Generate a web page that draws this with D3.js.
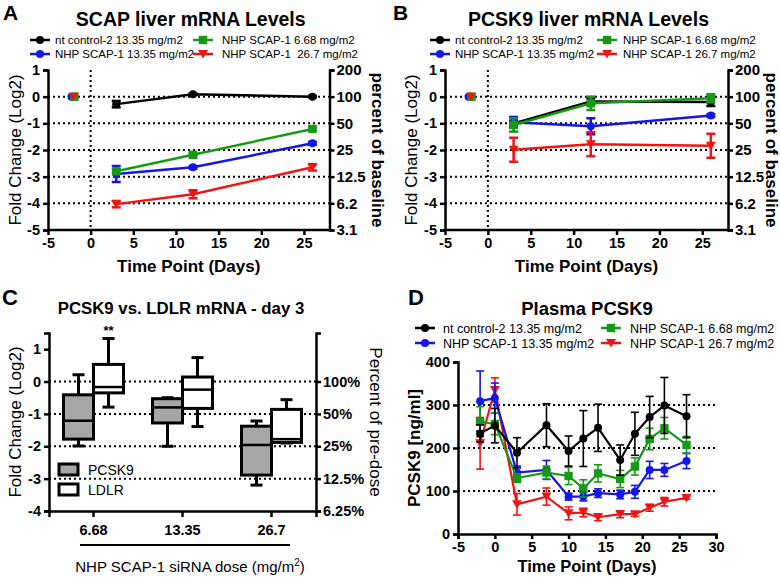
<!DOCTYPE html>
<html><head><meta charset="utf-8">
<script src="https://cdn.jsdelivr.net/npm/d3@7"></script>
<style>body{margin:0;background:#fff}svg{font-family:"Liberation Sans",Arial,Helvetica,sans-serif}</style>
</head><body><svg id="c" width="780" height="579"></svg>
<script>
// ---------- DATA ----------
const seriesLabelsA = ["nt control-2 13.35 mg/m2","NHP SCAP-1 6.68 mg/m2","NHP SCAP-1 13.35 mg/m2","NHP SCAP-1  26.7 mg/m2"];
const seriesLabelsB = ["nt control-2 13.35 mg/m2","NHP SCAP-1 6.68 mg/m2","NHP SCAP-1 13.35 mg/m2","NHP SCAP-1 26.7 mg/m2"];
const liverDays = [3, 12, 26];
const baselineDays = [-2, -1.9, -2.25, -2];   // ctrl, 6.68, 13.35, 26.7
const baselineValues = [0, 0, 0, 0];
const timeTicks = [-5, 0, 5, 10, 15, 20, 25];
const foldTicks = [1, 0, -1, -2, -3, -4, -5];
const percentBaselineLabels = ["200","100","50","25","12.5","6.2","3.1"];

// A: SCAP liver mRNA (log2 fold change)
const scapCtrl = [-0.28, 0.09, 0.0],   scapCtrlErr = [0.12, 0.03, 0.03];
const scap668  = [-2.80, -2.18, -1.21], scap668Err = [0.08, 0.06, 0.06];
const scap1335 = [-2.90, -2.65, -1.75], scap1335Err = [0.30, 0.05, 0.05];
const scap267  = [-4.03, -3.66, -2.65], scap267Err = [0.12, 0.15, 0.12];

// B: PCSK9 liver mRNA (log2 fold change)
const pcskCtrl = [-1.00, -0.18, -0.20], pcskCtrlErr = [0.10, 0.12, 0.15];
const pcsk668  = [-1.06, -0.25, -0.06], pcsk668Err = [0.25, 0.25, 0.15];
const pcsk1335 = [-0.96, -1.11, -0.71], pcsk1335Err = [0.20, 0.30, 0.05];
const pcsk267  = [-1.99, -1.78, -1.84], pcsk267Err = [0.45, 0.45, 0.45];

// C: box plots day 3 [min, q1, median, q3, max]
const doses = ["6.68", "13.35", "26.7"];
const pcsk9Box = [[-1.99, -1.78, -1.21, -0.41, 0.21], [-2.00, -1.28, -0.80, -0.53, -0.50], [-3.20, -2.89, -1.96, -1.38, -1.22]];
const ldlrBox  = [[-0.79, -0.35, -0.17, 0.53, 1.33], [-1.39, -0.83, -0.25, 0.14, 0.74], [-1.90, -1.88, -1.78, -0.86, -0.56]];
const foldTicksC = [1, 0, -1, -2, -3, -4];
const percentPreDoseTicks = [0, -1, -2, -3, -4];
const percentPreDoseLabels = ["100%", "50%", "25%", "12.5%", "6.25%"];

// D: plasma PCSK9 (ng/ml)
const plasmaDays = [-2, 0, 3, 7, 10, 12, 14, 17, 19, 21, 23, 26];
const plasmaCtrl = [234, 252, 189, 253, 193, 222, 247, 172, 233, 272, 299, 274];
const plasmaCtrlErr = [20, 40, 35, 50, 35, 65, 55, 35, 50, 48, 65, 50];
const plasma668 = [261, 256, 130, 143, 135, 106, 141, 128, 157, 221, 246, 207];
const plasma668Err = [35, 25, 10, 15, 20, 20, 20, 20, 20, 25, 25, 20];
const plasma1335 = [309, 316, 143, 149, 87, 87, 95, 92, 98, 149, 149, 170];
const plasma1335Err = [70, 35, 15, 22, 8, 10, 10, 10, 15, 20, 15, 18];
const plasma267 = [211, 335, 69, 87, 48, 50, 39, 46, 46, 61, 75, 84];
const plasma267Err = [60, 28, 25, 20, 15, 10, 8, 8, 5, 8, 10, 3];
const plasmaTicksX = [-5, 0, 5, 10, 15, 20, 25, 30];
const plasmaTicksY = [0, 100, 200, 300, 400];

// ---------- STYLE ----------
const COL = {ctrl: "#000000", s668: "#169a16", s1335: "#1414f0", s267: "#f01414"};
const SHAPE = {ctrl: "circle", s668: "square", s1335: "circle", s267: "tri"};
const svg = d3.select("#c");

function marker(g, shape, cx, cy, color, s) {
  s = s || 1;
  if (shape === "circle") g.append("circle").attr("cx", cx).attr("cy", cy).attr("r", 4 * s).attr("fill", color);
  else if (shape === "square") g.append("rect").attr("x", cx - 4.2 * s).attr("y", cy - 4.2 * s).attr("width", 8.4 * s).attr("height", 8.4 * s).attr("fill", color);
  else g.append("path").attr("d", `M${cx - 5 * s},${cy - 4 * s}L${cx + 5 * s},${cy - 4 * s}L${cx},${cy + 4.5 * s}Z`).attr("fill", color);
}

function styleAxis(sel, fs) {
  sel.select(".domain").attr("stroke", "#000").attr("stroke-width", 2.5);
  sel.selectAll(".tick line").attr("stroke", "#000").attr("stroke-width", 2.5);
  sel.selectAll(".tick text").attr("fill", "#000").attr("font-size", fs || 14.5).attr("font-weight", "bold");
}

function dotted(g, x1, y1, x2, y2) {
  g.append("line").attr("x1", x1).attr("y1", y1).attr("x2", x2).attr("y2", y2)
    .attr("stroke", "#000").attr("stroke-width", 2).attr("stroke-dasharray", "2,3");
}

function text(g, x, y, t, fs, bold, anchor, rot) {
  const el = g.append("text").attr("font-size", fs).attr("font-weight", bold ? "bold" : "normal")
    .attr("text-anchor", anchor || "middle").attr("fill", "#000").style("white-space", "pre").text(t);
  if (rot) el.attr("transform", `translate(${x},${y}) rotate(${rot})`);
  else el.attr("x", x).attr("y", y);
  return el;
}

function legend(g, items, x0, x1, y0, y1, fs, lineW, off0, off1) {
  items.forEach((it, i) => {
    const cx = i % 2 === 0 ? x0 : x1;
    const off = i % 2 === 0 ? off0 : off1;
    const cy = i < 2 ? y0 : y1;
    g.append("line").attr("x1", cx - 10).attr("x2", cx + 10).attr("y1", cy).attr("y2", cy).attr("stroke", it.color).attr("stroke-width", lineW);
    marker(g, it.shape, cx, cy, it.color);
    text(g, cx + off, cy + fs * 0.36, it.label, fs, false, "start");
  });
}

function series(g, x, y, days, vals, errs, color, shape, cap, sw, ew) {
  const pts = days.map((d, i) => ({d, v: vals[i], e: errs[i]}));
  pts.forEach(p => {
    const px = x(p.d);
    g.append("line").attr("x1", px).attr("x2", px).attr("y1", y(p.v - p.e)).attr("y2", y(p.v + p.e)).attr("stroke", color).attr("stroke-width", ew);
    [p.v - p.e, p.v + p.e].forEach(v => g.append("line").attr("x1", px - cap).attr("x2", px + cap).attr("y1", y(v)).attr("y2", y(v)).attr("stroke", color).attr("stroke-width", ew));
  });
  g.append("path").datum(pts).attr("fill", "none").attr("stroke", color).attr("stroke-width", sw)
    .attr("d", d3.line().x(p => x(p.d)).y(p => y(p.v)));
  pts.forEach(p => marker(g, shape, x(p.d), y(p.v), color));
}

// ---------- PANELS A & B ----------
function liverPanel(ox, letter, title, labels, data, xr, yTitleX, rTitleX, legX1, legOff1) {
  const g = svg.append("g");
  const x = d3.scaleLinear().domain([-5, 28]).range(xr);
  const y = d3.scaleLinear().domain([-5, 1]).range([230, 70]);
  text(g, ox + 3, 20, letter, 21, true, "start");
  text(g, (xr[0] + xr[1]) / 2 + 2, 26, title, 19.5, true);
  [0, -1, -2, -3, -4].forEach(v => dotted(g, xr[0], y(v), xr[1], y(v)));
  dotted(g, x(0), y(1), x(0), y(-5));
  g.append("g").attr("transform", `translate(${xr[0]},0)`).call(d3.axisLeft(y).tickValues(foldTicks).tickFormat(d => String(d)).tickSize(5).tickPadding(3)).call(styleAxis);
  g.append("g").attr("transform", `translate(${xr[1]},0)`).call(d3.axisRight(y).tickValues(foldTicks).tickFormat((d, i) => percentBaselineLabels[i]).tickSize(5).tickPadding(2)).call(s => styleAxis(s, 15));
  const xa = g.append("g").attr("transform", "translate(0,230)").call(d3.axisBottom(x).tickValues(timeTicks).tickFormat(d => String(d)).tickSize(5).tickPadding(3)).call(styleAxis);
  xa.select(".domain").attr("d", `M${xr[0]},0H${xr[1]}`);
  text(g, (xr[0] + xr[1]) / 2, 272, "Time Point (Days)", 17, true);
  text(g, yTitleX, 150, "Fold Change (Log2)", 17, false, "middle", -90);
  text(g, rTitleX, 150, "percent of baseline", 17, true, "middle", 90);
  const keys = ["ctrl", "s668", "s1335", "s267"];
  ["ctrl", "s1335", "s668", "s267"].forEach(k => {
    const i = keys.indexOf(k);
    marker(g, SHAPE[k], x(baselineDays[i]), y(baselineValues[i]), COL[k]);
  });
  ["ctrl", "s1335", "s668", "s267"].forEach(k => {
    series(g, x, y, liverDays, data[k][0], data[k][1], COL[k], SHAPE[k], 4.5, 2.5, 2.5);
  });
  legend(g, keys.map((k, i) => ({label: labels[i], color: COL[k], shape: SHAPE[k]})),
    ox + 40 + (ox > 0 ? 10 : 0), legX1, 40, 54, 11.5, 2.5, 15, legOff1);
}

liverPanel(0, "A", "SCAP liver mRNA Levels", seriesLabelsA,
  {ctrl: [scapCtrl, scapCtrlErr], s668: [scap668, scap668Err], s1335: [scap1335, scap1335Err], s267: [scap267, scap267Err]},
  [48, 329.5], 21, 372, 203, 19);
liverPanel(390, "B", "PCSK9 liver mRNA Levels", seriesLabelsB,
  {ctrl: [pcskCtrl, pcskCtrlErr], s668: [pcsk668, pcsk668Err], s1335: [pcsk1335, pcsk1335Err], s267: [pcsk267, pcsk267Err]},
  [445, 728], 417, 766, 607, 16);

// ---------- PANEL C ----------
(function () {
  const g = svg.append("g");
  const x = d3.scaleBand().domain(doses).range([49, 316]);
  const y = d3.scaleLinear().domain([-4, 1.5]).range([511, 333]);
  text(g, 2, 305, "C", 22, true, "start");
  text(g, 181, 314, "PCSK9 vs. LDLR mRNA - day 3", 16.8, true);
  [0, -1, -2, -3].forEach(v => dotted(g, 49, y(v), 316, y(v)));
  g.append("g").attr("transform", "translate(49,0)").call(d3.axisLeft(y).tickValues(foldTicksC).tickFormat(d => String(d)).tickSize(5).tickPadding(3)).call(styleAxis);
  g.append("g").attr("transform", "translate(316,0)").call(d3.axisRight(y).tickValues(percentPreDoseTicks).tickFormat((d, i) => percentPreDoseLabels[i]).tickSize(5).tickPadding(2)).call(styleAxis);
  g.append("g").attr("transform", "translate(0,511)").call(d3.axisBottom(x).tickSize(6).tickPadding(8)).call(styleAxis);
  const bw = 30;
  function box(cx, b, fill) {
    const [mn, q1, md, q3, mx] = b;
    const m = cx + bw / 2;
    g.append("line").attr("x1", m).attr("x2", m).attr("y1", y(mx)).attr("y2", y(mn)).attr("stroke", "#000").attr("stroke-width", 3);
    [mn, mx].forEach(v => g.append("line").attr("x1", m - 6).attr("x2", m + 6).attr("y1", y(v)).attr("y2", y(v)).attr("stroke", "#000").attr("stroke-width", 3));
    g.append("rect").attr("x", cx).attr("y", y(q3)).attr("width", bw).attr("height", y(q1) - y(q3)).attr("fill", fill).attr("stroke", "#000").attr("stroke-width", 3);
    g.append("line").attr("x1", cx).attr("x2", cx + bw).attr("y1", y(md)).attr("y2", y(md)).attr("stroke", "#000").attr("stroke-width", 2.5);
  }
  doses.forEach((d, i) => {
    const c = x(d) + x.bandwidth() / 2;
    box(c - bw, pcsk9Box[i], "#a6a6a6");
    box(c, ldlrBox[i], "#ffffff");
  });
  text(g, x(doses[0]) + x.bandwidth() / 2 + 15, 335, "**", 13, true);
  g.append("rect").attr("x", 59).attr("y", 464).attr("width", 19).attr("height", 11).attr("fill", "#a6a6a6").attr("stroke", "#000").attr("stroke-width", 3);
  g.append("rect").attr("x", 59).attr("y", 484).attr("width", 19).attr("height", 11).attr("fill", "#fff").attr("stroke", "#000").attr("stroke-width", 3);
  text(g, 88, 475, "PCSK9", 14, false, "start");
  text(g, 88, 495, "LDLR", 14, false, "start");
  text(g, 21, 422, "Fold Change (Log2)", 17, false, "middle", -90);
  text(g, 370, 422, "Percent of pre-dose", 17, false, "middle", 90);
  g.append("line").attr("x1", 80).attr("x2", 290).attr("y1", 545).attr("y2", 545).attr("stroke", "#000").attr("stroke-width", 2);
  const t = g.append("text").attr("x", 190).attr("y", 572).attr("text-anchor", "middle").attr("font-size", 15).attr("fill", "#000");
  t.append("tspan").text("NHP SCAP-1 siRNA dose (mg/m");
  t.append("tspan").attr("dy", -6).attr("font-size", 10).text("2");
  t.append("tspan").attr("dy", 6).text(")");
})();

// ---------- PANEL D ----------
(function () {
  const g = svg.append("g");
  const x = d3.scaleLinear().domain([-5, 30]).range([458, 716]);
  const y = d3.scaleLinear().domain([0, 400]).range([534, 362]);
  text(g, 408, 305, "D", 22, true, "start");
  text(g, 587, 315, "Plasma PCSK9", 18.5, true);
  [100, 200, 300].forEach(v => dotted(g, 458, y(v), 716, y(v)));
  g.append("g").attr("transform", "translate(458,0)").call(d3.axisLeft(y).tickValues(plasmaTicksY).tickSize(5).tickPadding(3)).call(styleAxis);
  g.append("g").attr("transform", "translate(0,534)").call(d3.axisBottom(x).tickValues(plasmaTicksX).tickFormat(d => String(d)).tickSize(5).tickPadding(3)).call(styleAxis);
  text(g, 587, 572, "Time Point (Days)", 16.5, true);
  text(g, 420, 448, "PCSK9 [ng/ml]", 17, true, "middle", -90);
  const data = {ctrl: [plasmaCtrl, plasmaCtrlErr], s668: [plasma668, plasma668Err], s1335: [plasma1335, plasma1335Err], s267: [plasma267, plasma267Err]};
  ["s267", "s1335", "s668", "ctrl"].forEach(k => series(g, x, y, plasmaDays, data[k][0], data[k][1], COL[k], SHAPE[k], 4, 2.2, 1.6));
  const keys = ["ctrl", "s668", "s1335", "s267"];
  legend(g, keys.map((k, i) => ({label: seriesLabelsB[i], color: COL[k], shape: SHAPE[k]})), 425, 611, 328, 343, 12.5, 2.5, 18, 19);
})();
</script></body></html>
